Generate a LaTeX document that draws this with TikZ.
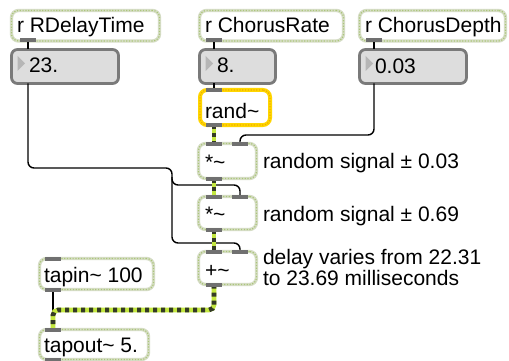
\documentclass[tikz,border=0pt]{standalone}
\usepackage{fontspec}
\setmainfont{Liberation Sans}
\usetikzlibrary{calc}

% patcher palette
\definecolor{objedge}{RGB}{214,221,198}
\definecolor{objdot}{RGB}{172,198,122}
\definecolor{numedge}{RGB}{122,122,122}
\definecolor{numfill}{RGB}{221,221,221}
\definecolor{trifill}{RGB}{182,182,182}
\definecolor{portgray}{RGB}{112,112,112}
\definecolor{selyel}{RGB}{255,214,0}
\definecolor{seldot}{RGB}{238,172,0}
\definecolor{siggreen}{RGB}{196,232,64}
\definecolor{sigdark}{RGB}{52,58,38}

\begin{document}
\begin{tikzpicture}[x=1pt,y=-1pt,
  objbox/.style={draw=objedge, line width=3.4pt, fill=white, rounded corners=7pt,
    outer sep=0pt, inner sep=0pt, anchor=north west,
    postaction={draw=objdot, line width=1.2pt, dash pattern=on 1.2pt off 1.6pt}},
  selbox/.style={draw=selyel, line width=4pt, fill=white, rounded corners=7pt,
    outer sep=0pt, inner sep=0pt, anchor=north west,
    postaction={draw=seldot, line width=1.2pt, dash pattern=on 1.2pt off 1.6pt}},
  numbox/.style={draw=numedge, line width=2.8pt, fill=numfill, rounded corners=6pt,
    outer sep=0pt, inner sep=0pt, anchor=north west},
  lbl/.style={anchor=base west, inner sep=0pt, outer sep=0pt,
    font=\fontsize{21}{21}\selectfont},
  port/.style={fill=portgray},
  cord/.style={draw=black, line width=1.4pt, rounded corners=6pt},
  sig/.style={draw=siggreen, line width=4.6pt, rounded corners=5pt,
    postaction={draw=sigdark, line width=4.6pt, dash pattern=on 4pt off 4pt}}
]
\fill[white] (0,0) rectangle (509,361);
\useasboundingbox (0,0) rectangle (509,361);

% ---- boxes ----
\node[objbox, minimum width=148pt, minimum height=30.5pt] (rdelay) at (11.5,10.5) {};
\node[numbox, minimum width=107pt, minimum height=34pt] (num23) at (11.5,49.5) {};
\node[objbox, minimum width=144pt, minimum height=30.5pt] (rcrate) at (199.5,10.5) {};
\node[numbox, minimum width=76pt, minimum height=34pt] (num8) at (199.5,49.5) {};
\node[objbox, minimum width=146pt, minimum height=30.5pt] (rcdepth) at (359.5,10.5) {};
\node[numbox, minimum width=107pt, minimum height=34pt] (num003) at (359.5,49.5) {};
\node[selbox, minimum width=70pt, minimum height=35pt] (rand) at (200,90) {};
\node[objbox, minimum width=58pt, minimum height=35pt] (mulA) at (198.5,143.5) {};
\node[objbox, minimum width=58pt, minimum height=33pt] (mulB) at (198.5,196.5) {};
\node[objbox, minimum width=58pt, minimum height=33pt] (add) at (198.5,251.5) {};
\node[objbox, minimum width=114pt, minimum height=31pt] (tapin) at (39.5,258.5) {};
\node[objbox, minimum width=109pt, minimum height=30pt] (tapout) at (39.5,329.5) {};

% number box triangles
\fill[trifill] (17.5,56) -- (25,63.5) -- (17.5,71) -- cycle;
\fill[trifill] (205.5,56) -- (213,63.5) -- (205.5,71) -- cycle;
\fill[trifill] (365.5,56) -- (373,63.5) -- (365.5,71) -- cycle;

% ---- texts ----
\node[lbl] (t-rdelay) at (17,33) {r RDelayTime};
\node[lbl] (t-num23) at (29,73) {23.};
\node[lbl] (t-rcrate) at (205,33) {r ChorusRate};
\node[lbl] (t-num8) at (217,73) {8.};
\node[lbl] (t-rcdepth) at (365,33) {r ChorusDepth};
\node[lbl] (t-num003) at (375,74) {0.03};
\node[lbl] (t-rand) at (205,118) {rand\char`~};
\node[lbl] (t-mulA) at (205,169) {*\char`~};
\node[lbl] (t-mulB) at (205,221) {*\char`~};
\node[lbl] (t-add) at (205,277) {+\char`~};
\node[lbl] (t-tapin) at (44,282) {tapin\char`~{} 100};
\node[lbl] (t-tapout) at (44,352) {tapout\char`~{} 5.};
\node[lbl] (c-one) at (263,168) {random signal ± 0.03};
\node[lbl] (c-two) at (263,221) {random signal ± 0.69};
\node[lbl] (c-three) at (263,264) {delay varies from 22.31};
\node[lbl] (c-four) at (263,285) {to 23.69 milliseconds};

% ---- inlet / outlet points ----
\coordinate (rdelay-o) at (28,40.5);
\coordinate (num23-i) at (28,49.5);
\coordinate (num23-o) at (28,83.5);
\coordinate (rcrate-o) at (214,40.5);
\coordinate (num8-i) at (214,49.5);
\coordinate (num8-o) at (214,83.5);
\coordinate (rcdepth-o) at (374,40.5);
\coordinate (num003-i) at (374,49.5);
\coordinate (num003-o) at (374,83.5);
\coordinate (rand-i) at (214,90);
\coordinate (rand-o) at (214,125);
\coordinate (mulA-l) at (214,143.5);
\coordinate (mulA-r) at (240,143.5);
\coordinate (mulA-o) at (214,178.5);
\coordinate (mulB-l) at (214,196.5);
\coordinate (mulB-r) at (240,196.5);
\coordinate (mulB-o) at (214,229.5);
\coordinate (add-l) at (214,251.5);
\coordinate (add-r) at (240,251.5);
\coordinate (add-o) at (214,284.5);
\coordinate (tapin-i) at (53,258.5);
\coordinate (tapin-o) at (53,289.5);
\coordinate (tapout-i) at (53,329.5);
\coordinate (tapout-o) at (53,359.5);
\coordinate (split) at (172,185);

% ---- control cords ----
\draw[cord] (rdelay-o) -- (num23-i);
\draw[cord] (rcrate-o) -- (num8-i);
\draw[cord] (num8-o) -- (rand-i);
\draw[cord] (rcdepth-o) -- (num003-i);
\draw[cord] (num003-o) -- (num003-o |- 0,135) -| (mulA-r);
\draw[cord] (num23-o) -- (num23-o |- 0,168) -| (split) -- (split |- 0,243) -| (add-r);
\draw[cord] ($(split)+(0,-8)$) -- (split) -| (mulB-r);
\draw[cord] (tapin-o) -- (tapout-i);

% ---- signal cords ----
\draw[sig] (rand-o) -- (mulA-l);
\draw[sig] (mulA-o) -- (mulB-l);
\draw[sig] (mulB-o) -- (add-l);
\draw[sig] (add-o) -- (add-o |- 0,310) -| (tapout-i);

% ---- ports ----
\foreach \p in {rdelay-o,rcrate-o,rcdepth-o,rand-i,rand-o,mulA-l,mulA-r,mulA-o,
                mulB-l,mulB-r,mulB-o,add-l,add-r,add-o,tapin-i,tapin-o,tapout-i,tapout-o}
  \fill[port] ($(\p)+(-8,-2)$) rectangle ($(\p)+(8,2)$);
\end{tikzpicture}
\end{document}
